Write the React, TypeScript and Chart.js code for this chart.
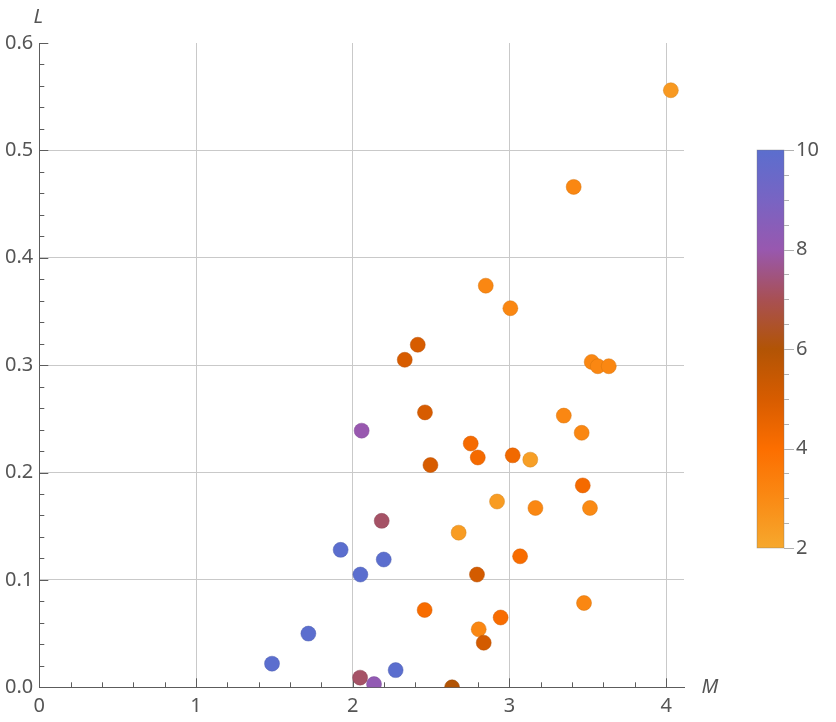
import { useEffect, useRef } from "react";
import { Chart, registerables } from "chart.js";

Chart.register(...registerables);

// M (x), L (y) and the colour variable of each point
const mValues = [
  4.03, 3.41, 2.849, 3.006, 2.415, 2.332, 2.461, 2.057, 2.753, 2.798,
  3.021, 3.133, 2.496, 2.921, 3.166, 2.185, 2.676, 1.923, 2.198, 2.049,
  3.068, 2.793, 2.459, 2.804, 2.944, 2.836, 3.476, 2.634, 2.047, 2.136,
  2.274, 1.485, 1.717, 3.347, 3.461, 3.468, 3.514, 3.525, 3.564, 3.634,
];
const lValues = [
  0.556, 0.466, 0.374, 0.353, 0.319, 0.305, 0.256, 0.239, 0.227, 0.214,
  0.216, 0.212, 0.207, 0.173, 0.167, 0.155, 0.144, 0.128, 0.119, 0.105,
  0.122, 0.105, 0.072, 0.054, 0.065, 0.0415, 0.0785, 0.0, 0.009, 0.003,
  0.016, 0.022, 0.05, 0.253, 0.237, 0.188, 0.167, 0.303, 0.299, 0.299,
];
const zValues = [
  2.5, 3.1, 3.1, 3.1, 5.0, 5.0, 5.0, 8, 4.2, 4.2,
  4.3, 2.3, 5.0, 2.4, 3.1, 7.2, 2.4, 10, 10, 10,
  4.1, 5.1, 4.1, 3.1, 4.1, 5.1, 3.1, 6, 7.2, 8.2,
  10, 10, 10, 3.1, 3.1, 4.2, 3.0, 3.1, 3.1, 3.1,
];

const xTicks = [0, 1, 2, 3, 4];
const yTicks = [0, 0.1, 0.2, 0.3, 0.4, 0.5, 0.6];
const barTicks = [2, 4, 6, 8, 10];

const X_MAX = 4.114;
const Y_MAX = 0.6;
const Z_MIN = 2;
const Z_MAX = 10;

// colour scale, z = 2 .. 10
const stops: [number, number, number][] = [
  [246, 168, 45],
  [250, 138, 20],
  [252, 110, 0],
  [215, 92, 0],
  [178, 84, 5],
  [168, 80, 84],
  [152, 88, 175],
  [120, 100, 195],
  [91, 110, 206],
];

function mix(z: number) {
  const t = Math.min(Math.max((z - Z_MIN) / (Z_MAX - Z_MIN), 0), 1) * (stops.length - 1);
  const i = Math.min(Math.floor(t), stops.length - 2);
  const f = t - i;
  return stops[i].map((v, k) => v + (stops[i + 1][k] - v) * f);
}

function zColor(z: number) {
  const c = mix(z).map(Math.round);
  return `rgb(${c[0]},${c[1]},${c[2]})`;
}

function darker(z: number) {
  const c = mix(z).map((v) => Math.round(v * 0.85));
  return `rgba(${c[0]},${c[1]},${c[2]},0.6)`;
}

const FONT = "'Noto Sans', 'Open Sans', sans-serif";
const TEXT = "#555555";
const AXIS = "#5c5c5c";

const extras = {
  id: "mmaExtras",
  beforeDatasetsDraw(chart: any) {
    const { ctx, chartArea } = chart;
    const xs = chart.scales.x;
    const ys = chart.scales.y;
    ctx.save();
    ctx.strokeStyle = AXIS;
    ctx.lineWidth = 1;
    ctx.beginPath();
    // x ticks, inward
    for (let i = 0; i <= 20; i++) {
      const v = i * 0.2;
      if (v > X_MAX) break;
      const px = Math.round(xs.getPixelForValue(v)) + 0.5;
      const len = i % 5 === 0 ? 9 : 5;
      ctx.moveTo(px, chartArea.bottom);
      ctx.lineTo(px, chartArea.bottom - len);
    }
    // y ticks, inward
    for (let i = 0; i <= 30; i++) {
      const v = i * 0.02;
      const py = Math.round(ys.getPixelForValue(v)) + 0.5;
      const len = i % 5 === 0 ? 9 : 5;
      ctx.moveTo(chartArea.left, py);
      ctx.lineTo(chartArea.left + len, py);
    }
    ctx.stroke();
    ctx.restore();
  },
  afterDraw(chart: any) {
    const { ctx, chartArea } = chart;
    ctx.save();
    // axis labels
    ctx.fillStyle = TEXT;
    ctx.font = `italic 20px ${FONT}`;
    ctx.textAlign = "center";
    ctx.textBaseline = "middle";
    ctx.fillText("L", chartArea.left - 1, 17);
    ctx.fillText("M", chartArea.right + 26, chartArea.bottom);

    // colour bar
    const bx = 757;
    const bw = 27;
    const top = 150;
    const bottom = 548;
    const zy = (z: number) => bottom - ((z - Z_MIN) / (Z_MAX - Z_MIN)) * (bottom - top);
    const grad = ctx.createLinearGradient(0, bottom, 0, top);
    for (let k = 0; k < stops.length; k++) {
      grad.addColorStop(k / (stops.length - 1), zColor(Z_MIN + k));
    }
    ctx.fillStyle = grad;
    ctx.fillRect(bx, top, bw, bottom - top);
    ctx.strokeStyle = "rgba(120,120,120,0.6)";
    ctx.lineWidth = 0.6;
    ctx.strokeRect(bx, top, bw, bottom - top);

    ctx.strokeStyle = "#b0b0b0";
    ctx.lineWidth = 1;
    ctx.beginPath();
    for (let z = Z_MIN; z <= Z_MAX; z += 0.5) {
      const py = Math.round(zy(z)) + 0.5;
      const major = z % 2 === 0;
      ctx.moveTo(bx + bw, py);
      ctx.lineTo(bx + bw + (major ? 10 : 5), py);
    }
    ctx.stroke();

    ctx.fillStyle = TEXT;
    ctx.font = `20px ${FONT}`;
    ctx.textAlign = "left";
    ctx.textBaseline = "middle";
    barTicks.forEach((z) => ctx.fillText(String(z), bx + bw + 12, zy(z)));
    ctx.restore();
  },
};

export default function App() {
  const canvasEl = useRef<HTMLCanvasElement | null>(null);

  useEffect(() => {
    const ctx = canvasEl.current!.getContext("2d")!;
    const points = mValues.map((m, i) => ({ x: m, y: lValues[i] }));

    const config: any = {
      type: "scatter",
      data: {
        datasets: [
          {
            data: points,
            pointRadius: 7.5,
            pointBackgroundColor: zValues.map((z) => zColor(z)),
            pointBorderColor: zValues.map((z) => darker(z)),
            pointBorderWidth: 0.8,
          },
        ],
      },
      options: {
        animation: false,
        responsive: true,
        maintainAspectRatio: false,
        layout: { padding: { left: 0, top: 43, right: 152, bottom: 0 } },
        plugins: { legend: { display: false }, tooltip: { enabled: false } },
        scales: {
          x: {
            type: "linear",
            min: 0,
            max: X_MAX,
            afterFit: (s: any) => {
              s.height = 34.7;
            },
            afterBuildTicks: (s: any) => {
              s.ticks = xTicks.map((v) => ({ value: v }));
            },
            ticks: {
              includeBounds: false,
              padding: 7,
              color: TEXT,
              font: { family: FONT, size: 20 },
              callback: (v: number) => String(v),
            },
            grid: {
              drawTicks: false,
              color: (c: any) => (c.tick && c.tick.value === 0 ? "transparent" : "#c9c9c9"),
            },
            border: { color: AXIS, width: 1 },
          },
          y: {
            type: "linear",
            min: 0,
            max: Y_MAX,
            afterFit: (s: any) => {
              s.width = 39.3;
            },
            afterBuildTicks: (s: any) => {
              s.ticks = yTicks.map((v) => ({ value: v }));
            },
            ticks: {
              includeBounds: false,
              padding: 6,
              color: TEXT,
              font: { family: FONT, size: 20 },
              callback: (v: number) => v.toFixed(1),
            },
            grid: {
              drawTicks: false,
              color: (c: any) =>
                c.tick && (c.tick.value === 0 || c.tick.value === Y_MAX) ? "transparent" : "#c9c9c9",
            },
            border: { color: AXIS, width: 1 },
          },
        },
      },
      plugins: [extras],
    };

    const chart = new Chart(ctx, config);
    return () => {
      chart.destroy();
    };
  }, []);

  return (
    <div style={{ position: "fixed", left: 0, top: 0, width: 836, height: 722, background: "#fff" }}>
      <canvas ref={canvasEl} />
    </div>
  );
}
